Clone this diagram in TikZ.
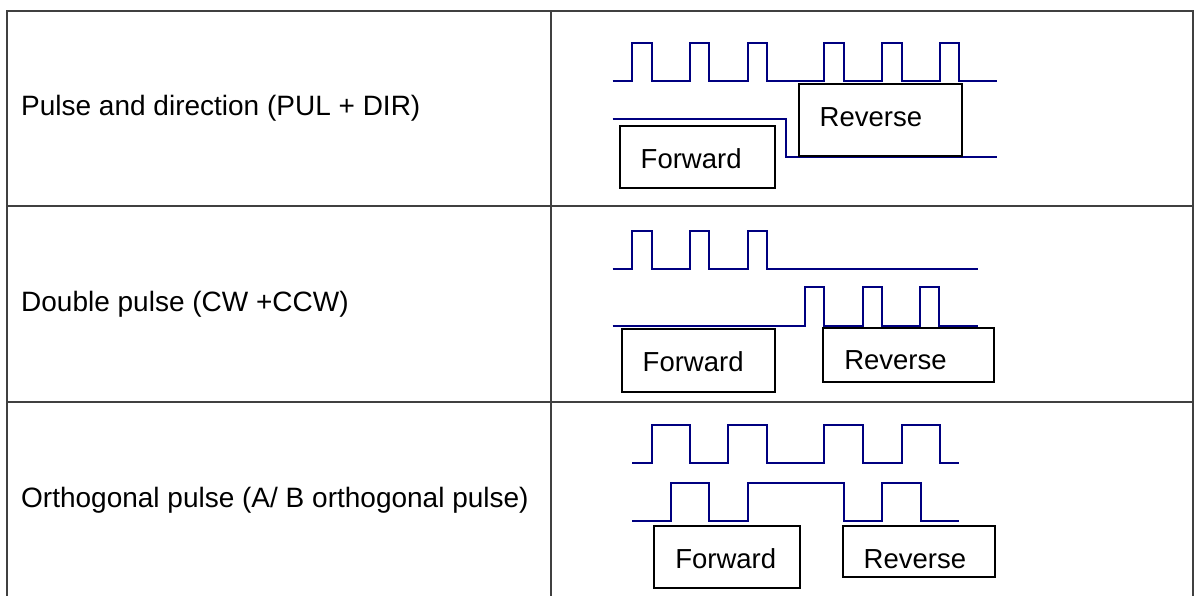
\documentclass[tikz,border=0pt]{standalone}
\usepackage{fontspec}
\setmainfont{Liberation Sans}
\usepackage{tikz}
\usetikzlibrary{positioning, calc}
\definecolor{SigNavy}{HTML}{000080}
\definecolor{GridGray}{HTML}{404040}

\begin{document}
\begin{tikzpicture}[x=1pt, y=-1pt]
    \tikzset{
        gridline/.style={draw=GridGray, line width=1.8pt},
        sig/.style={draw=SigNavy, line width=2pt},
        rowlabel/.style={anchor=west, inner sep=0pt, font=\fontsize{28}{34}\selectfont},
        dirbox/.style={draw=black, fill=white, line width=2pt, anchor=north west, inner ysep=0pt,
            inner xsep=21pt, align=left, text height=42pt, font=\fontsize{27.5}{33}\selectfont}
    }
    \useasboundingbox (0,0) rectangle (1195,595);

    % 1. Table frame
    \draw[gridline] (7,597) -- (7,11) -- (1193,11) -- (1193,597);
    \draw[gridline] (7,206) -- (1193,206);
    \draw[gridline] (7,402) -- (1193,402);
    \draw[gridline] (551,11) -- (551,597);

    % 2. Row labels (left column)
    \node[rowlabel] (pdLabel) at (21,108) {Pulse and direction (PUL + DIR)};
    \node[rowlabel] (dpLabel) at (21,304) {Double pulse (CW +CCW)};
    \node[rowlabel] (abLabel) at (21,500) {Orthogonal pulse (A/ B orthogonal pulse)};

    % -------------------------------------------------------------
    % ROW 1: PUL + DIR
    % -------------------------------------------------------------
    \draw[sig] (612.7,81) \foreach \r/\f in {632.3/651.7, 690/709.3, 747.7/767.3, 824.3/844, 882/901.7, 940/959.3}
        { -| (\r,43.3) -| (\f,81) } -- (997.3,81);
    \draw[sig] (612.7,119.3) -| (786,157) -- (997.3,157);
    \node[dirbox, text width=113.3pt, text depth=20.3pt] (pdFwd) at (618.7,125) {Forward};
    \node[dirbox, text width=121.3pt, text depth=30pt] (pdRev) at (797.7,83.3) {Reverse};

    % -------------------------------------------------------------
    % ROW 2: CW + CCW
    % -------------------------------------------------------------
    \draw[sig] (612.7,268.7) \foreach \r/\f in {632.3/651.7, 690/709.3, 747.7/767.3}
        { -| (\r,230.7) -| (\f,268.7) } -- (978.3,268.7);
    \draw[sig] (612.7,325.7) \foreach \r/\f in {805/824.3, 862.7/882.3, 920/939.3}
        { -| (\r,287.3) -| (\f,325.7) } -- (978.3,325.7);
    \node[dirbox, text width=111.3pt, text depth=20.7pt] (dpFwd) at (620.7,328.3) {Forward};
    \node[dirbox, text width=129pt, text depth=12pt] (dpRev) at (822.3,326.7) {Reverse};

    % -------------------------------------------------------------
    % ROW 3: A / B
    % -------------------------------------------------------------
    \draw[sig] (632.3,463.3) \foreach \r/\f in {651.7/690, 728.3/766.7, 824.3/863.3, 901.7/940}
        { -| (\r,425) -| (\f,463.3) } -- (959.3,463.3);
    \draw[sig] (632.3,520.7) \foreach \r/\f in {671/709.3, 747.7/844, 882.3/920.7}
        { -| (\r,482.7) -| (\f,520.7) } -- (959.3,520.7);
    \node[dirbox, text width=104pt, text depth=19.7pt] (abFwd) at (653.3,525) {Forward};
    \node[dirbox, text width=110.3pt, text depth=8.7pt] (abRev) at (841.7,525) {Reverse};
\end{tikzpicture}
\end{document}
